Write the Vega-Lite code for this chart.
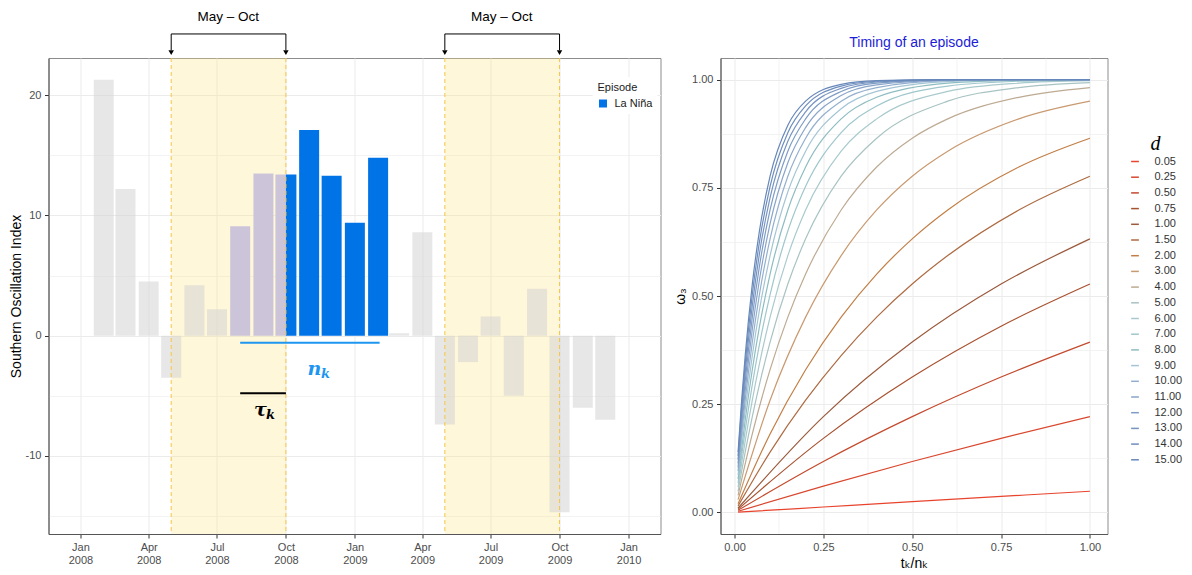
{
"$schema": "https://vega.github.io/schema/vega-lite/v6.json",
"padding": {"left": 8.5, "top": 9, "right": 8, "bottom": 5},
"spacing": 60,
"bounds": "flush",
"resolve": {"scale": {"color": "independent"}, "legend": {"color": "independent"}},
"config": {
  "font": "Liberation Sans",
  "view": {"stroke": "#8c8c8c"},
  "axis": {"labelFontSize": 11, "labelColor": "#4d4d4d", "titleColor": "#000000", "titleFontWeight": "normal", "titleFontSize": 14, "gridColor": "#ebebeb", "tickColor": "#333333", "tickSize": 4, "domainColor": "#555555", "labelPadding": 3.5, "labelOverlap": false, "labelFlush": false},
  "legend": {"labelFont": "Liberation Sans", "titleFont": "Liberation Sans"}
},
"datasets": {
  "soi": [
    {"date": "2008-02-01", "soi": 21.3, "status": "gray"},
    {"date": "2008-03-01", "soi": 12.2, "status": "gray"},
    {"date": "2008-04-01", "soi": 4.5, "status": "gray"},
    {"date": "2008-05-01", "soi": -3.5, "status": "gray"},
    {"date": "2008-06-01", "soi": 4.2, "status": "gray"},
    {"date": "2008-07-01", "soi": 2.2, "status": "gray"},
    {"date": "2008-08-01", "soi": 9.1, "status": "pre"},
    {"date": "2008-09-01", "soi": 13.5, "status": "pre"},
    {"date": "2008-10-01", "soi": 13.4, "status": "split", "episode": "La Niña"},
    {"date": "2008-11-01", "soi": 17.1, "status": "nina", "episode": "La Niña"},
    {"date": "2008-12-01", "soi": 13.3, "status": "nina", "episode": "La Niña"},
    {"date": "2009-01-01", "soi": 9.4, "status": "nina", "episode": "La Niña"},
    {"date": "2009-02-01", "soi": 14.8, "status": "nina", "episode": "La Niña"},
    {"date": "2009-03-01", "soi": 0.2, "status": "gray"},
    {"date": "2009-04-01", "soi": 8.6, "status": "gray"},
    {"date": "2009-05-01", "soi": -7.4, "status": "gray"},
    {"date": "2009-06-01", "soi": -2.2, "status": "gray"},
    {"date": "2009-07-01", "soi": 1.6, "status": "gray"},
    {"date": "2009-08-01", "soi": -5.0, "status": "gray"},
    {"date": "2009-09-01", "soi": 3.9, "status": "gray"},
    {"date": "2009-10-01", "soi": -14.7, "status": "gray"},
    {"date": "2009-11-01", "soi": -6.0, "status": "gray"},
    {"date": "2009-12-01", "soi": -7.0, "status": "gray"}
  ],
  "seasons": [
    {"start": "2008-05-01", "end": "2008-10-01", "mid": "2008-07-16"},
    {"start": "2009-05-01", "end": "2009-10-01", "mid": "2009-07-16"}
  ],
  "omega": [
    {"d":0.05,"x":0.01,"w":0.0005},{"d":0.05,"x":0.25,"w":0.0124},{"d":0.05,"x":0.5,"w":0.0247},{"d":0.05,"x":0.75,"w":0.0368},{"d":0.05,"x":1,"w":0.0488},
    {"d":0.25,"x":0.01,"w":0.0025},{"d":0.25,"x":0.25,"w":0.0606},{"d":0.25,"x":0.5,"w":0.1175},{"d":0.25,"x":0.75,"w":0.171},{"d":0.25,"x":1,"w":0.2212},
    {"d":0.5,"x":0.01,"w":0.005},{"d":0.5,"x":0.25,"w":0.1175},{"d":0.5,"x":0.5,"w":0.2212},{"d":0.5,"x":0.75,"w":0.3127},{"d":0.5,"x":1,"w":0.3935},
    {"d":0.75,"x":0.01,"w":0.0075},{"d":0.75,"x":0.25,"w":0.171},{"d":0.75,"x":0.5,"w":0.3127},{"d":0.75,"x":0.75,"w":0.4302},{"d":0.75,"x":1,"w":0.5276},
    {"d":1,"x":0.01,"w":0.01},{"d":1,"x":0.25,"w":0.2212},{"d":1,"x":0.5,"w":0.3935},{"d":1,"x":0.75,"w":0.5276},{"d":1,"x":1,"w":0.6321},
    {"d":1.5,"x":0.01,"w":0.0149},{"d":1.5,"x":0.1,"w":0.1393},{"d":1.5,"x":0.2,"w":0.2592},{"d":1.5,"x":0.3,"w":0.3624},{"d":1.5,"x":0.4,"w":0.4512},{"d":1.5,"x":0.5,"w":0.5276},{"d":1.5,"x":0.6,"w":0.5934},{"d":1.5,"x":0.8,"w":0.6988},{"d":1.5,"x":1,"w":0.7769},
    {"d":2,"x":0.01,"w":0.0198},{"d":2,"x":0.1,"w":0.1813},{"d":2,"x":0.2,"w":0.3297},{"d":2,"x":0.3,"w":0.4512},{"d":2,"x":0.4,"w":0.5507},{"d":2,"x":0.5,"w":0.6321},{"d":2,"x":0.6,"w":0.6988},{"d":2,"x":0.8,"w":0.7981},{"d":2,"x":1,"w":0.8647},
    {"d":3,"x":0.01,"w":0.0296},{"d":3,"x":0.1,"w":0.2592},{"d":3,"x":0.2,"w":0.4512},{"d":3,"x":0.3,"w":0.5934},{"d":3,"x":0.4,"w":0.6988},{"d":3,"x":0.5,"w":0.7769},{"d":3,"x":0.6,"w":0.8347},{"d":3,"x":0.8,"w":0.9093},{"d":3,"x":1,"w":0.9502},
    {"d":4,"x":0.01,"w":0.0392},{"d":4,"x":0.05,"w":0.1813},{"d":4,"x":0.1,"w":0.3297},{"d":4,"x":0.15,"w":0.4512},{"d":4,"x":0.2,"w":0.5507},{"d":4,"x":0.3,"w":0.6988},{"d":4,"x":0.4,"w":0.7981},{"d":4,"x":0.5,"w":0.8647},{"d":4,"x":0.6,"w":0.9093},{"d":4,"x":0.8,"w":0.9592},{"d":4,"x":1,"w":0.9817},
    {"d":5,"x":0.01,"w":0.0488},{"d":5,"x":0.02,"w":0.0952},{"d":5,"x":0.03,"w":0.1393},{"d":5,"x":0.05,"w":0.2212},{"d":5,"x":0.07,"w":0.2953},{"d":5,"x":0.1,"w":0.3935},{"d":5,"x":0.15,"w":0.5276},{"d":5,"x":0.2,"w":0.6321},{"d":5,"x":0.3,"w":0.7769},{"d":5,"x":0.4,"w":0.8647},{"d":5,"x":0.6,"w":0.9502},{"d":5,"x":0.8,"w":0.9817},{"d":5,"x":1,"w":0.9933},
    {"d":6,"x":0.01,"w":0.0582},{"d":6,"x":0.02,"w":0.1131},{"d":6,"x":0.03,"w":0.1647},{"d":6,"x":0.05,"w":0.2592},{"d":6,"x":0.07,"w":0.343},{"d":6,"x":0.1,"w":0.4512},{"d":6,"x":0.15,"w":0.5934},{"d":6,"x":0.2,"w":0.6988},{"d":6,"x":0.3,"w":0.8347},{"d":6,"x":0.4,"w":0.9093},{"d":6,"x":0.6,"w":0.9727},{"d":6,"x":0.8,"w":0.9918},{"d":6,"x":1,"w":0.9975},
    {"d":7,"x":0.01,"w":0.0676},{"d":7,"x":0.02,"w":0.1306},{"d":7,"x":0.03,"w":0.1894},{"d":7,"x":0.05,"w":0.2953},{"d":7,"x":0.07,"w":0.3874},{"d":7,"x":0.1,"w":0.5034},{"d":7,"x":0.15,"w":0.6501},{"d":7,"x":0.2,"w":0.7534},{"d":7,"x":0.3,"w":0.8775},{"d":7,"x":0.4,"w":0.9392},{"d":7,"x":0.6,"w":0.985},{"d":7,"x":0.8,"w":0.9963},{"d":7,"x":1,"w":0.9991},
    {"d":8,"x":0.01,"w":0.0769},{"d":8,"x":0.02,"w":0.1479},{"d":8,"x":0.03,"w":0.2134},{"d":8,"x":0.05,"w":0.3297},{"d":8,"x":0.07,"w":0.4288},{"d":8,"x":0.1,"w":0.5507},{"d":8,"x":0.15,"w":0.6988},{"d":8,"x":0.2,"w":0.7981},{"d":8,"x":0.3,"w":0.9093},{"d":8,"x":0.4,"w":0.9592},{"d":8,"x":0.6,"w":0.9918},{"d":8,"x":0.8,"w":0.9983},{"d":8,"x":1,"w":0.9997},
    {"d":9,"x":0.01,"w":0.0861},{"d":9,"x":0.02,"w":0.1647},{"d":9,"x":0.03,"w":0.2366},{"d":9,"x":0.05,"w":0.3624},{"d":9,"x":0.07,"w":0.4674},{"d":9,"x":0.1,"w":0.5934},{"d":9,"x":0.15,"w":0.7408},{"d":9,"x":0.2,"w":0.8347},{"d":9,"x":0.3,"w":0.9328},{"d":9,"x":0.4,"w":0.9727},{"d":9,"x":0.6,"w":0.9955},{"d":9,"x":0.8,"w":0.9993},{"d":9,"x":1,"w":0.9999},
    {"d":10,"x":0.01,"w":0.0952},{"d":10,"x":0.02,"w":0.1813},{"d":10,"x":0.03,"w":0.2592},{"d":10,"x":0.05,"w":0.3935},{"d":10,"x":0.07,"w":0.5034},{"d":10,"x":0.1,"w":0.6321},{"d":10,"x":0.15,"w":0.7769},{"d":10,"x":0.2,"w":0.8647},{"d":10,"x":0.3,"w":0.9502},{"d":10,"x":0.4,"w":0.9817},{"d":10,"x":0.6,"w":0.9975},{"d":10,"x":0.8,"w":0.9997},{"d":10,"x":1,"w":1},
    {"d":11,"x":0.01,"w":0.1042},{"d":11,"x":0.02,"w":0.1975},{"d":11,"x":0.03,"w":0.2811},{"d":11,"x":0.05,"w":0.4231},{"d":11,"x":0.07,"w":0.537},{"d":11,"x":0.1,"w":0.6671},{"d":11,"x":0.15,"w":0.808},{"d":11,"x":0.2,"w":0.8892},{"d":11,"x":0.3,"w":0.9631},{"d":11,"x":0.4,"w":0.9877},{"d":11,"x":0.6,"w":0.9986},{"d":11,"x":0.8,"w":0.9998},{"d":11,"x":1,"w":1},
    {"d":12,"x":0.01,"w":0.1131},{"d":12,"x":0.02,"w":0.2134},{"d":12,"x":0.03,"w":0.3023},{"d":12,"x":0.05,"w":0.4512},{"d":12,"x":0.07,"w":0.5683},{"d":12,"x":0.1,"w":0.6988},{"d":12,"x":0.15,"w":0.8347},{"d":12,"x":0.2,"w":0.9093},{"d":12,"x":0.3,"w":0.9727},{"d":12,"x":0.4,"w":0.9918},{"d":12,"x":0.6,"w":0.9993},{"d":12,"x":0.8,"w":0.9999},{"d":12,"x":1,"w":1},
    {"d":13,"x":0.01,"w":0.1219},{"d":13,"x":0.02,"w":0.229},{"d":13,"x":0.03,"w":0.3229},{"d":13,"x":0.05,"w":0.478},{"d":13,"x":0.07,"w":0.5975},{"d":13,"x":0.1,"w":0.7275},{"d":13,"x":0.15,"w":0.8577},{"d":13,"x":0.2,"w":0.9257},{"d":13,"x":0.3,"w":0.9798},{"d":13,"x":0.4,"w":0.9945},{"d":13,"x":0.6,"w":0.9996},{"d":13,"x":0.8,"w":1},{"d":13,"x":1,"w":1},
    {"d":14,"x":0.01,"w":0.1306},{"d":14,"x":0.02,"w":0.2442},{"d":14,"x":0.03,"w":0.343},{"d":14,"x":0.05,"w":0.5034},{"d":14,"x":0.07,"w":0.6247},{"d":14,"x":0.1,"w":0.7534},{"d":14,"x":0.15,"w":0.8775},{"d":14,"x":0.2,"w":0.9392},{"d":14,"x":0.3,"w":0.985},{"d":14,"x":0.4,"w":0.9963},{"d":14,"x":0.6,"w":0.9998},{"d":14,"x":0.8,"w":1},{"d":14,"x":1,"w":1},
    {"d":15,"x":0.01,"w":0.1393},{"d":15,"x":0.02,"w":0.2592},{"d":15,"x":0.03,"w":0.3624},{"d":15,"x":0.05,"w":0.5276},{"d":15,"x":0.07,"w":0.6501},{"d":15,"x":0.1,"w":0.7769},{"d":15,"x":0.15,"w":0.8946},{"d":15,"x":0.2,"w":0.9502},{"d":15,"x":0.3,"w":0.9889},{"d":15,"x":0.4,"w":0.9975},{"d":15,"x":0.6,"w":0.9999},{"d":15,"x":0.8,"w":1},{"d":15,"x":1,"w":1}
  ]
},
"hconcat": [
  {
    "width": 612,
    "height": 476,
    "layer": [
      {
        "data": {"name": "seasons"},
        "mark": {"type": "rect", "color": "#ffe680", "opacity": 0.3},
        "encoding": {
          "x": {"field": "start", "type": "temporal",
            "scale": {"type": "utc", "domain": [{"year": 2007, "month": 11, "date": 26, "utc": true}, {"year": 2010, "month": 2, "date": 6, "utc": true}], "nice": false},
            "axis": {
              "title": null,
              "values": [
                {"year": 2008, "month": 1, "date": 1, "utc": true},
                {"year": 2008, "month": 2, "date": 15, "utc": true},
                {"year": 2008, "month": 4, "date": 1, "utc": true},
                {"year": 2008, "month": 5, "date": 16, "utc": true},
                {"year": 2008, "month": 7, "date": 1, "utc": true},
                {"year": 2008, "month": 8, "date": 16, "utc": true},
                {"year": 2008, "month": 10, "date": 1, "utc": true},
                {"year": 2008, "month": 11, "date": 16, "utc": true},
                {"year": 2009, "month": 1, "date": 1, "utc": true},
                {"year": 2009, "month": 2, "date": 15, "utc": true},
                {"year": 2009, "month": 4, "date": 1, "utc": true},
                {"year": 2009, "month": 5, "date": 16, "utc": true},
                {"year": 2009, "month": 7, "date": 1, "utc": true},
                {"year": 2009, "month": 8, "date": 16, "utc": true},
                {"year": 2009, "month": 10, "date": 1, "utc": true},
                {"year": 2009, "month": 11, "date": 16, "utc": true},
                {"year": 2010, "month": 1, "date": 1, "utc": true}
              ],
              "labelExpr": "utcdate(datum.value) == 1 ? [utcFormat(datum.value, '%b'), utcFormat(datum.value, '%Y')] : ''",
              "labelLineHeight": 12.5,
              "tickOpacity": {"condition": {"test": "utcdate(datum.value) != 1", "value": 0}, "value": 1},
              "gridWidth": {"condition": {"test": "utcdate(datum.value) != 1", "value": 0.6}, "value": 1}
            }
          },
          "x2": {"field": "end"}
        }
      },
      {
        "data": {"name": "soi"},
        "transform": [{"filter": "datum.status == 'gray'"}],
        "mark": {"type": "bar", "size": 20, "color": "#d4d4d4", "opacity": 0.55},
        "encoding": {
          "x": {"field": "date", "type": "temporal"},
          "y": {"field": "soi", "type": "quantitative",
            "scale": {"domain": [-16.5, 23.1], "nice": false, "zero": false},
            "axis": {
              "title": "Southern Oscillation Index",
              "titlePadding": 2,
              "values": [-15, -10, -5, 0, 5, 10, 15, 20],
              "labelExpr": "datum.value % 10 == 0 ? '' + datum.value : ''",
              "tickOpacity": {"condition": {"test": "datum.value % 10 != 0", "value": 0}, "value": 1},
              "gridWidth": {"condition": {"test": "datum.value % 10 != 0", "value": 0.6}, "value": 1}
            }
          }
        }
      },
      {
        "data": {"name": "soi"},
        "transform": [{"filter": "datum.status == 'pre'"}],
        "mark": {"type": "bar", "size": 20, "color": "#ccc5d9"},
        "encoding": {
          "x": {"field": "date", "type": "temporal"},
          "y": {"field": "soi", "type": "quantitative"}
        }
      },
      {
        "data": {"name": "soi"},
        "transform": [{"filter": "datum.status == 'split'"}],
        "mark": {"type": "bar", "size": 10.5, "xOffset": -5.25, "color": "#ccc5d9"},
        "encoding": {
          "x": {"field": "date", "type": "temporal"},
          "y": {"field": "soi", "type": "quantitative"}
        }
      },
      {
        "data": {"name": "soi"},
        "transform": [{"filter": "datum.status == 'split'"}],
        "mark": {"type": "bar", "size": 10.5, "xOffset": 5.25, "color": "#0073e6"},
        "encoding": {
          "x": {"field": "date", "type": "temporal"},
          "y": {"field": "soi", "type": "quantitative"}
        }
      },
      {
        "data": {"name": "soi"},
        "transform": [{"filter": "datum.status == 'nina'"}],
        "mark": {"type": "bar", "size": 20},
        "encoding": {
          "x": {"field": "date", "type": "temporal"},
          "y": {"field": "soi", "type": "quantitative"},
          "color": {"field": "episode", "type": "nominal", "scale": {"domain": ["La Niña"], "range": ["#0073e6"]},
            "legend": {"title": "Episode", "orient": "none", "legendX": 544, "legendY": 19, "direction": "vertical", "padding": 5, "fillColor": "white", "titleFontSize": 11, "titleFontWeight": "normal", "titleColor": "#1a1a1a", "titlePadding": 5, "labelFontSize": 11, "labelColor": "#1a1a1a", "labelOffset": 6, "symbolType": "square", "symbolSize": 64, "symbolStrokeWidth": 0}
          }
        }
      },
      {
        "data": {"name": "seasons"},
        "mark": {"type": "rule", "color": "#f5c646", "strokeDash": [4, 3], "strokeWidth": 1},
        "encoding": {"x": {"field": "start", "type": "temporal"}}
      },
      {
        "data": {"name": "seasons"},
        "mark": {"type": "rule", "color": "#f5c646", "strokeDash": [4, 3], "strokeWidth": 1},
        "encoding": {"x": {"field": "end", "type": "temporal"}}
      },
      {
        "data": {"name": "seasons"},
        "mark": {"type": "rule", "color": "#000000", "strokeWidth": 1},
        "encoding": {"x": {"field": "start", "type": "temporal"}, "x2": {"field": "end"}, "y": {"datum": 25.1}}
      },
      {
        "data": {"name": "seasons"},
        "mark": {"type": "rule", "color": "#000000", "strokeWidth": 1},
        "encoding": {"x": {"field": "start", "type": "temporal"}, "y": {"datum": 25.1}, "y2": {"datum": 23.75}}
      },
      {
        "data": {"name": "seasons"},
        "mark": {"type": "rule", "color": "#000000", "strokeWidth": 1},
        "encoding": {"x": {"field": "end", "type": "temporal"}, "y": {"datum": 25.1}, "y2": {"datum": 23.75}}
      },
      {
        "data": {"name": "seasons"},
        "mark": {"type": "point", "shape": "triangle-down", "filled": true, "color": "#000000", "opacity": 1, "size": 30},
        "encoding": {"x": {"field": "start", "type": "temporal"}, "y": {"datum": 23.55}}
      },
      {
        "data": {"name": "seasons"},
        "mark": {"type": "point", "shape": "triangle-down", "filled": true, "color": "#000000", "opacity": 1, "size": 30},
        "encoding": {"x": {"field": "end", "type": "temporal"}, "y": {"datum": 23.55}}
      },
      {
        "data": {"name": "seasons"},
        "mark": {"type": "text", "fontSize": 13.5, "color": "#000000"},
        "encoding": {"x": {"field": "mid", "type": "temporal"}, "y": {"datum": 26.5}, "text": {"value": "May – Oct"}}
      },
      {
        "data": {"values": [{}]},
        "mark": {"type": "rule", "color": "#1e96f0", "strokeWidth": 2},
        "encoding": {
          "x": {"datum": {"year": 2008, "month": 8, "date": 1, "utc": true}, "type": "temporal"},
          "x2": {"datum": {"year": 2009, "month": 2, "date": 3, "utc": true}},
          "y": {"datum": -0.58}
        }
      },
      {
        "data": {"values": [{}]},
        "mark": {"type": "rule", "color": "#000000", "strokeWidth": 2},
        "encoding": {
          "x": {"datum": {"year": 2008, "month": 8, "date": 1, "utc": true}, "type": "temporal"},
          "x2": {"datum": {"year": 2008, "month": 10, "date": 1, "utc": true}},
          "y": {"datum": -4.8}
        }
      },
      {
        "data": {"values": [{}]},
        "mark": {"type": "text", "font": "DejaVu Serif", "fontStyle": "italic", "fontWeight": "bold", "fontSize": 19, "color": "#1e96f0"},
        "encoding": {
          "x": {"datum": {"year": 2008, "month": 11, "date": 8, "utc": true}, "type": "temporal"},
          "y": {"datum": -2.75},
          "text": {"value": "n"}
        }
      },
      {
        "data": {"values": [{}]},
        "mark": {"type": "text", "font": "DejaVu Serif", "fontStyle": "italic", "fontWeight": "bold", "fontSize": 13, "color": "#1e96f0", "dx": 11, "dy": 5},
        "encoding": {
          "x": {"datum": {"year": 2008, "month": 11, "date": 8, "utc": true}, "type": "temporal"},
          "y": {"datum": -2.75},
          "text": {"value": "k"}
        }
      },
      {
        "data": {"values": [{}]},
        "mark": {"type": "text", "font": "DejaVu Serif", "fontStyle": "italic", "fontWeight": "bold", "fontSize": 19, "color": "#000000"},
        "encoding": {
          "x": {"datum": {"year": 2008, "month": 8, "date": 28, "utc": true}, "type": "temporal"},
          "y": {"datum": -6.15},
          "text": {"value": "τ"}
        }
      },
      {
        "data": {"values": [{}]},
        "mark": {"type": "text", "font": "DejaVu Serif", "fontStyle": "italic", "fontWeight": "bold", "fontSize": 13, "color": "#000000", "dx": 10, "dy": 5},
        "encoding": {
          "x": {"datum": {"year": 2008, "month": 8, "date": 28, "utc": true}, "type": "temporal"},
          "y": {"datum": -6.15},
          "text": {"value": "k"}
        }
      }
    ]
  },
  {
    "width": 387,
    "height": 476,
    "title": {"text": "Timing of an episode", "color": "#1c1cd9", "fontSize": 14, "fontWeight": "normal", "offset": 8, "anchor": "middle"},
    "data": {"name": "omega"},
    "mark": {"type": "line", "interpolate": "monotone", "strokeWidth": 1.2},
    "encoding": {
      "x": {"field": "x", "type": "quantitative",
        "scale": {"domain": [-0.0395, 1.0495], "nice": false, "zero": false},
        "axis": {
          "title": "tₖ/nₖ",
          "titleFont": "Liberation Sans, DejaVu Sans",
          "titlePadding": 4,
          "values": [0, 0.125, 0.25, 0.375, 0.5, 0.625, 0.75, 0.875, 1],
          "labelExpr": "(datum.value * 4) % 1 == 0 ? format(datum.value, '.2f') : ''",
          "tickOpacity": {"condition": {"test": "(datum.value * 4) % 1 != 0", "value": 0}, "value": 1},
          "gridWidth": {"condition": {"test": "(datum.value * 4) % 1 != 0", "value": 0.6}, "value": 1}
        }
      },
      "y": {"field": "w", "type": "quantitative",
        "scale": {"domain": [-0.05, 1.05], "nice": false, "zero": false},
        "axis": {
          "title": "ω₃",
          "titleFont": "Liberation Sans, DejaVu Sans",
          "titleFontSize": 14,
          "titlePadding": 4,
          "values": [0, 0.125, 0.25, 0.375, 0.5, 0.625, 0.75, 0.875, 1],
          "labelExpr": "(datum.value * 4) % 1 == 0 ? format(datum.value, '.2f') : ''",
          "tickOpacity": {"condition": {"test": "(datum.value * 4) % 1 != 0", "value": 0}, "value": 1},
          "gridWidth": {"condition": {"test": "(datum.value * 4) % 1 != 0", "value": 0.6}, "value": 1}
        }
      },
      "color": {"field": "d", "type": "ordinal",
        "scale": {
          "domain": [0.05, 0.25, 0.5, 0.75, 1, 1.5, 2, 3, 4, 5, 6, 7, 8, 9, 10, 11, 12, 13, 14, 15],
          "range": ["#e8432d", "#d9472e", "#c44a2d", "#a85231", "#9b5a3c", "#ae6b42", "#c27e45", "#c99a70", "#bdaa92", "#a8c3c2", "#a9cacd", "#9fc7cc", "#8ebdc1", "#a4c5d5", "#93afcf", "#88a4c9", "#7e9cc5", "#7694c1", "#6e8dbd", "#6687b9"]
        },
        "legend": {
          "title": "d", "orient": "none", "legendX": 409, "legendY": 76, "direction": "vertical",
          "titleFont": "Liberation Serif", "titleFontStyle": "italic", "titleFontSize": 20, "titleFontWeight": "normal", "titleColor": "#000000", "titleAnchor": "middle", "titlePadding": 2,
          "labelExpr": "format(datum.value, '.2f')", "labelFontSize": 11, "labelColor": "#333333", "labelOffset": 14,
          "symbolType": "stroke", "symbolSize": 60, "symbolStrokeWidth": 1.5, "rowPadding": 3.7
        }
      }
    }
  }
]
}
